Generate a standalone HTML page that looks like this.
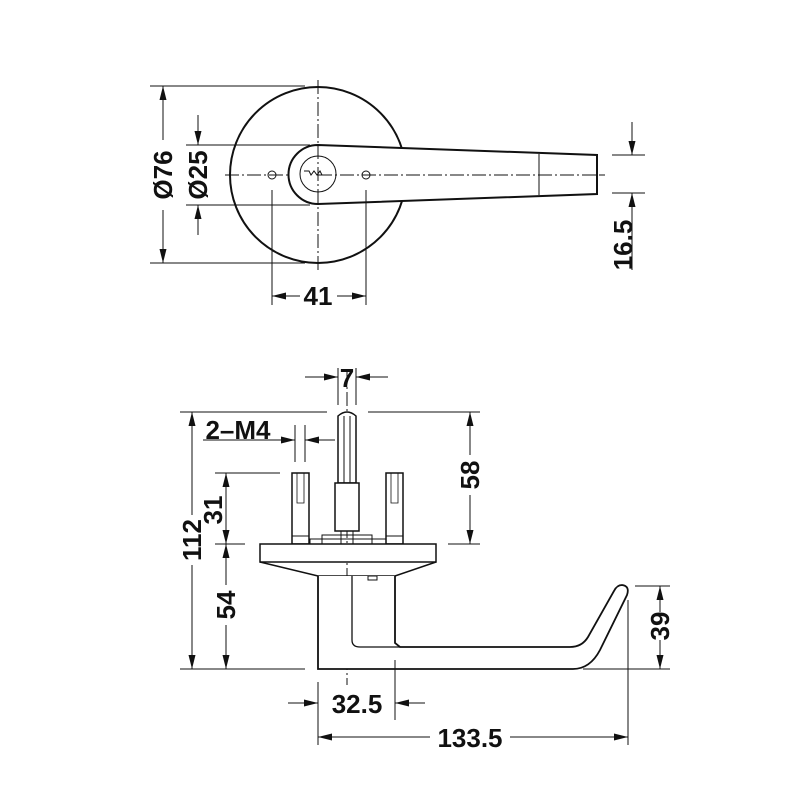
<!DOCTYPE html>
<html><head><meta charset="utf-8"><style>html,body{margin:0;background:#fff}svg{display:block}text{font-family:"Liberation Sans",Arial,sans-serif;font-weight:bold;font-size:26px;fill:#111}</style></head><body>
<svg width="800" height="800" viewBox="0 0 800 800" xmlns="http://www.w3.org/2000/svg">
<defs><marker id="b" viewBox="0 0 14 7" refX="14" refY="3.5" markerWidth="14" markerHeight="7" markerUnits="userSpaceOnUse" orient="auto"><path d="M0,0L14,3.5L0,7z" fill="#111"/></marker></defs>
<g stroke="#111" fill="none">
<!-- top view -->
<circle cx="318" cy="175" r="88" stroke-width="2"/>
<g stroke-width="1" stroke-dasharray="14,3,2,3"><line x1="225" y1="175" x2="605" y2="175"/><line x1="318" y1="80" x2="318" y2="270"/></g>
<path d="M318,145 L597,155 L597,194 L318,204 A29.5,29.5 0 0 1 318,145 Z" stroke-width="2" fill="#fff"/>
<line x1="318" y1="175" x2="605" y2="175" stroke-width="1" stroke-dasharray="14,3,2,3"/>
<line x1="318" y1="145" x2="318" y2="204" stroke-width="1" stroke-dasharray="14,3,2,3"/>
<line x1="539" y1="154" x2="539" y2="195" stroke-width="1"/>
<circle cx="318" cy="174" r="18" stroke-width="1"/>
<path d="M304,171 h5 l2,4 3,-4 3,4 3,-4 2,4 h6" stroke-width="1"/>
<circle cx="272" cy="175" r="4" stroke-width="1"/><circle cx="366" cy="175" r="4" stroke-width="1"/>
<g stroke-width="1">
<line x1="150" y1="86" x2="305" y2="86"/><line x1="150" y1="263" x2="305" y2="263"/>
<line x1="163" y1="140" x2="163" y2="86" marker-end="url(#b)"/><line x1="163" y1="210" x2="163" y2="263" marker-end="url(#b)"/>
<line x1="186" y1="145" x2="310" y2="145"/><line x1="186" y1="205" x2="310" y2="205"/>
<line x1="198" y1="115" x2="198" y2="145" marker-end="url(#b)"/><line x1="198" y1="235" x2="198" y2="205" marker-end="url(#b)"/>
<line x1="272" y1="190" x2="272" y2="305"/><line x1="366" y1="190" x2="366" y2="305"/>
<line x1="300" y1="296" x2="272" y2="296" marker-end="url(#b)"/><line x1="337" y1="296" x2="366" y2="296" marker-end="url(#b)"/>
<line x1="612" y1="155" x2="645" y2="155"/><line x1="612" y1="193" x2="645" y2="193"/>
<line x1="632" y1="122" x2="632" y2="155" marker-end="url(#b)"/><line x1="632" y1="270" x2="632" y2="193" marker-end="url(#b)"/>
</g>
<!-- side view -->
<line x1="347" y1="370" x2="347" y2="685" stroke-width="1" stroke-dasharray="14,3,2,3"/>
<path d="M338,483 L338,416 Q347,408 356,416 L356,483 Z" stroke-width="1.5" fill="#fff"/>
<line x1="344" y1="416" x2="344" y2="483" stroke-width="1"/><line x1="350" y1="416" x2="350" y2="483" stroke-width="1"/>
<rect x="335" y="483" width="24" height="48" stroke-width="1.5" fill="#fff"/>
<rect x="341" y="531" width="12" height="13" stroke-width="1"/>
<rect x="322" y="535" width="50" height="9" stroke-width="1"/>
<rect x="310" y="539" width="76" height="5" stroke-width="1"/>
<rect x="292" y="473" width="17" height="71" stroke-width="1.5" fill="#fff"/><rect x="386" y="473" width="17" height="71" stroke-width="1.5" fill="#fff"/>
<line x1="292" y1="536" x2="309" y2="536" stroke-width="1"/><line x1="386" y1="536" x2="403" y2="536" stroke-width="1"/>
<path d="M297,473v30h7v-30M391,473v30h7v-30" stroke-width="0.8"/>
<rect x="260" y="544" width="176" height="18" stroke-width="1.5" fill="#fff"/>
<path d="M260,562 L318,576 L395,576 L436,562" stroke-width="1.5"/>
<path d="M318,576 L318,669 L573,669 Q590,669 600,650 L627,595 Q630,586 622,585 Q617,585 614,591 L588,637 Q582,647 570,647 L400,647 L395,643 L395,576" stroke-width="1.8" fill="#fff"/>
<path d="M352,576 L352,640 Q352,647 360,647 L400,647" stroke-width="1.3"/>
<rect x="368" y="576" width="9" height="4" stroke-width="1"/>
<g stroke-width="1">
<line x1="338" y1="368" x2="338" y2="405"/><line x1="356" y1="368" x2="356" y2="405"/>
<line x1="305" y1="377" x2="338" y2="377" marker-end="url(#b)"/><line x1="388" y1="377" x2="356" y2="377" marker-end="url(#b)"/>
<line x1="203" y1="440" x2="295" y2="440" marker-end="url(#b)"/><line x1="335" y1="440" x2="305" y2="440" marker-end="url(#b)"/>
<line x1="295" y1="425" x2="295" y2="462"/><line x1="305" y1="425" x2="305" y2="462"/>
<line x1="180" y1="412" x2="327" y2="412"/><line x1="368" y1="412" x2="480" y2="412"/>
<line x1="180" y1="669" x2="305" y2="669"/>
<line x1="192" y1="515" x2="192" y2="412" marker-end="url(#b)"/><line x1="192" y1="565" x2="192" y2="669" marker-end="url(#b)"/>
<line x1="215" y1="473" x2="280" y2="473"/><line x1="215" y1="544" x2="245" y2="544"/>
<line x1="226" y1="510" x2="226" y2="473" marker-end="url(#b)"/><line x1="226" y1="510" x2="226" y2="544" marker-end="url(#b)"/>
<line x1="226" y1="585" x2="226" y2="544" marker-end="url(#b)"/><line x1="226" y1="625" x2="226" y2="669" marker-end="url(#b)"/>
<line x1="448" y1="544" x2="480" y2="544"/>
<line x1="470" y1="455" x2="470" y2="412" marker-end="url(#b)"/><line x1="470" y1="495" x2="470" y2="544" marker-end="url(#b)"/>
<line x1="635" y1="586" x2="670" y2="586"/><line x1="583" y1="669" x2="670" y2="669"/>
<line x1="660" y1="612" x2="660" y2="586" marker-end="url(#b)"/><line x1="660" y1="640" x2="660" y2="669" marker-end="url(#b)"/>
<line x1="318" y1="682" x2="318" y2="745"/><line x1="395" y1="660" x2="395" y2="720"/><line x1="628" y1="600" x2="628" y2="745"/>
<line x1="288" y1="703" x2="318" y2="703" marker-end="url(#b)"/><line x1="425" y1="703" x2="395" y2="703" marker-end="url(#b)"/>
<line x1="430" y1="737" x2="318" y2="737" marker-end="url(#b)"/><line x1="510" y1="737" x2="628" y2="737" marker-end="url(#b)"/>
</g>
</g>
<g text-anchor="middle">
<text transform="translate(172,175) rotate(-90)">Ø76</text>
<text transform="translate(207,175) rotate(-90)">Ø25</text>
<text x="318" y="305">41</text>
<text transform="translate(632,245) rotate(-90)">16.5</text>
<text x="347" y="387">7</text>
<text x="238" y="439">2–M4</text>
<text transform="translate(201,540) rotate(-90)">112</text>
<text transform="translate(222,510) rotate(-90)">31</text>
<text transform="translate(235,605) rotate(-90)">54</text>
<text transform="translate(479,475) rotate(-90)">58</text>
<text transform="translate(669,626) rotate(-90)">39</text>
<text x="357" y="713">32.5</text>
<text x="470" y="747">133.5</text>
</g>
</svg>
</body></html>
